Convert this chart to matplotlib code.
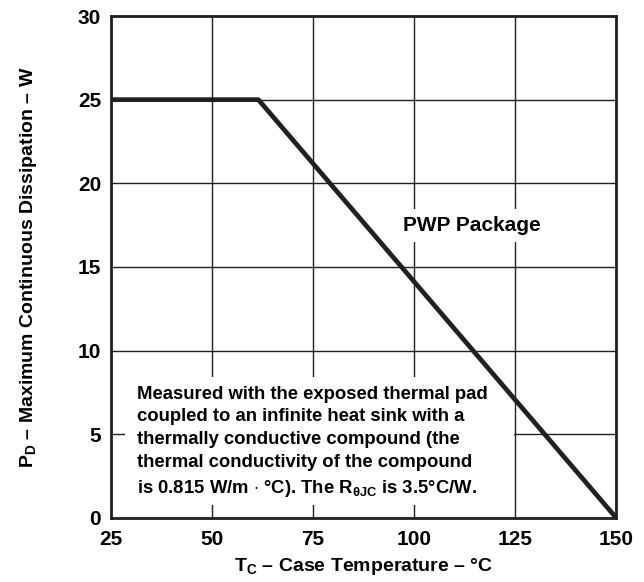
import matplotlib
matplotlib.use('Agg')
import matplotlib.pyplot as plt
from matplotlib.patches import Rectangle

plt.rcParams['font.family'] = ['Liberation Sans', 'DejaVu Sans']
plt.rcParams['font.weight'] = 'bold'
plt.rcParams['mathtext.fontset'] = 'custom'
plt.rcParams['mathtext.rm'] = 'Liberation Sans:bold'
plt.rcParams['mathtext.bf'] = 'Liberation Sans:bold'
plt.rcParams['mathtext.it'] = 'Liberation Sans:bold'

# Derating curve (case temperature, power)
temp_c = [25, 61.5, 150]
power_w = [25, 25, 0]

x_ticks = [25, 50, 75, 100, 125, 150]
y_ticks = [0, 5, 10, 15, 20, 25, 30]

note = ('Measured with the exposed thermal pad\n'
        'coupled to an infinite heat sink with a\n'
        'thermally conductive compound (the\n'
        'thermal conductivity of the compound\n'
        r'is 0.815 W/m $\cdot$ °C). The R$_{\theta \mathrm{JC}}$ is 3.5°C/W.')

fig = plt.figure(figsize=(6.44, 5.82), dpi=100)
ax = fig.add_axes([0.172, 0.110, 0.785, 0.8625])

ax.plot(temp_c, power_w, color='#231f20', lw=3.4, zorder=4, solid_capstyle='butt')

ax.set_xlim(25, 150)
ax.set_ylim(0, 30)
ax.set_xticks(x_ticks)
ax.set_yticks(y_ticks)
ax.grid(True, color='#231f20', lw=1.0, zorder=1)
ax.set_axisbelow(True)
ax.tick_params(length=0, labelsize=15)
ax.tick_params(axis='x', pad=9)
ax.tick_params(axis='y', pad=7)
for lab in ax.get_xticklabels() + ax.get_yticklabels():
    lab.set_fontweight('bold')
for sp in ax.spines.values():
    sp.set_linewidth(2.0)
    sp.set_color('#231f20')

ax.set_xlabel(r'T$_{\mathrm{C}}$ – Case Temperature – °C', fontsize=14, fontweight='bold', labelpad=5)
ax.set_ylabel(r'P$_{\mathrm{D}}$ – Maximum Continuous Dissipation – W', fontsize=14, fontweight='bold', labelpad=28)

ax.text(114.4, 17.5, 'PWP Package', fontsize=15, fontweight='bold', ha='center', va='center', zorder=5,
        bbox=dict(facecolor='white', edgecolor='none', pad=5))

# white panel behind the note hides the grid
ax.add_patch(Rectangle((28.5, 0.78), 96.3, 7.65, facecolor='white', edgecolor='none', zorder=2))
ax.text(31.4, 1.5, note, fontsize=13.3, fontweight='bold', ha='left', va='baseline', linespacing=1.45,
        zorder=3)

fig.savefig('out.png', dpi=100)
